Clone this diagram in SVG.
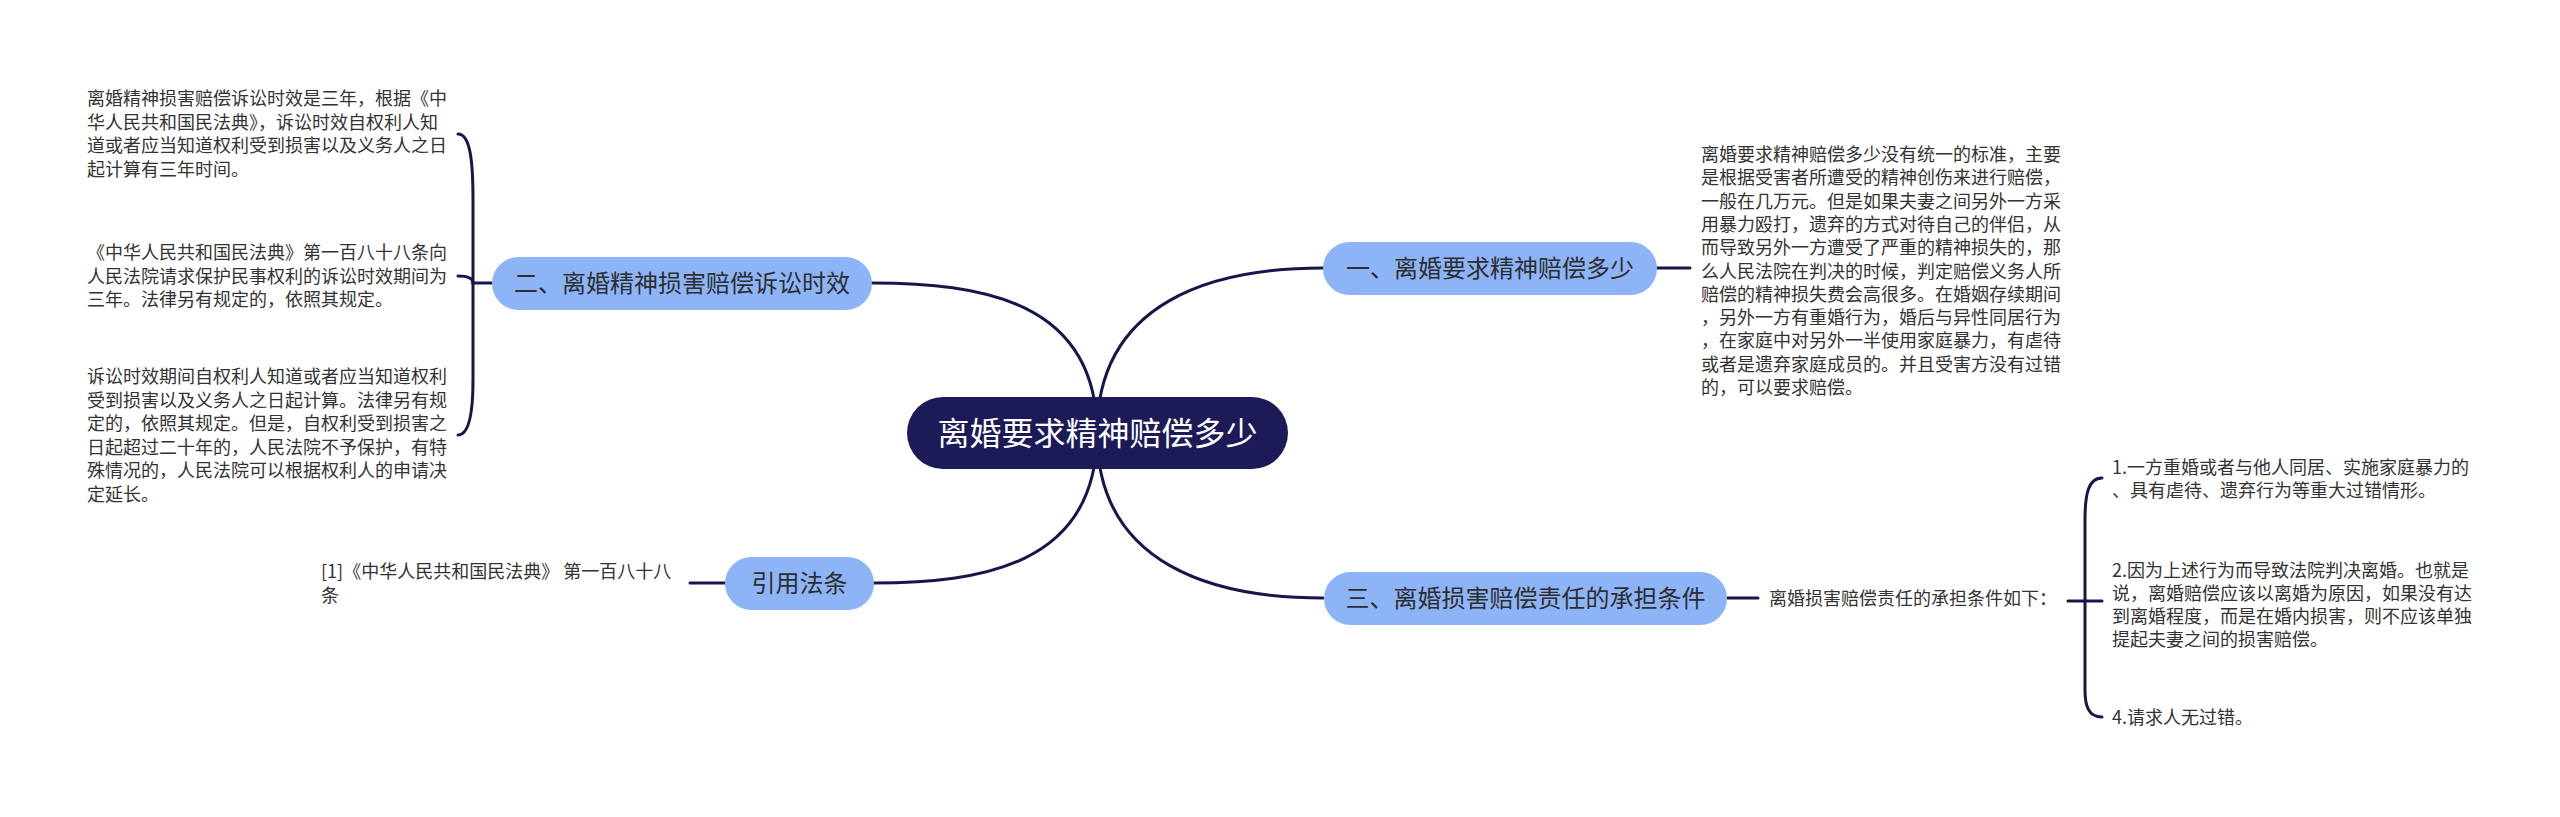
<svg xmlns="http://www.w3.org/2000/svg" width="2560" height="817" viewBox="0 0 2560 817">
<style>
.conn{fill:none;stroke:#16164a;stroke-width:3;stroke-linecap:round}
.br{fill:#8db4f7}
.brt{font-family:"Noto Sans CJK SC","Liberation Sans",sans-serif;font-size:24px;fill:#2e2e2e;text-anchor:middle}
.body{font-family:"Noto Sans CJK SC","Liberation Sans",sans-serif;font-size:18px;fill:#333333}
.ctr{font-family:"Noto Sans CJK SC","Liberation Sans",sans-serif;font-size:32px;fill:#ffffff;text-anchor:middle}
</style>
<rect width="2560" height="817" fill="#ffffff"/>
<g id="connectors">
<path class="conn" d="M1097 433 C1097 300 980 283 872 283"/>
<path class="conn" d="M1097 433 C1097 566 980 583 874 583"/>
<path class="conn" d="M1097 433 C1097 300 1215 268 1323 268"/>
<path class="conn" d="M1097 433 C1097 566 1215 598 1323 598"/>
<path class="conn" d="M492 283 L473 283"/>
<path class="conn" d="M473 283 L473 200 C473 160 470 134 458 134"/>
<path class="conn" d="M473 283 C473 279 469 276 458 276"/>
<path class="conn" d="M473 283 L473 380 C473 410 470 435 458 435"/>
<path class="conn" d="M725 583 L690 583"/>
<path class="conn" d="M1657 268 L1690 268"/>
<path class="conn" d="M1727 598 L1758 598"/>
<path class="conn" d="M2068 601 L2102 601"/>
<path class="conn" d="M2085 601 L2085 520 C2085 495 2088 478 2102 478"/>
<path class="conn" d="M2085 601 L2085 690 C2085 705 2088 717 2102 717"/>
</g>
<g id="center">
<rect x="907" y="397" width="381" height="72" rx="36" fill="#1c1b58"/>
<text class="ctr" x="1097.5" y="445">离婚要求精神赔偿多少</text>
</g>
<g id="node-er">
<rect class="br" x="492" y="257" width="380" height="53" rx="26.5"/>
<text class="brt" x="682" y="292">二、离婚精神损害赔偿诉讼时效</text>
</g>
<g id="node-yinyong">
<rect class="br" x="725" y="557" width="149" height="53" rx="26.5"/>
<text class="brt" x="799.5" y="592">引用法条</text>
</g>
<g id="node-yi">
<rect class="br" x="1323" y="242" width="334" height="53" rx="26.5"/>
<text class="brt" x="1490" y="277">一、离婚要求精神赔偿多少</text>
</g>
<g id="node-san">
<rect class="br" x="1324" y="572" width="403" height="53" rx="26.5"/>
<text class="brt" x="1525.5" y="607">三、离婚损害赔偿责任的承担条件</text>
</g>
<g id="text-er-1">
<text class="body" x="87"><tspan x="87" y="105">离婚精神损害赔偿诉讼时效是三年，根据《中</tspan><tspan x="87" y="128.5">华人民共和国民法典》，诉讼时效自权利人知</tspan><tspan x="87" y="152">道或者应当知道权利受到损害以及义务人之日</tspan><tspan x="87" y="175.5">起计算有三年时间。</tspan></text>
</g>
<g id="text-er-2">
<text class="body" x="87"><tspan x="87" y="259">《中华人民共和国民法典》第一百八十八条向</tspan><tspan x="87" y="282.5">人民法院请求保护民事权利的诉讼时效期间为</tspan><tspan x="87" y="306">三年。法律另有规定的，依照其规定。</tspan></text>
</g>
<g id="text-er-3">
<text class="body" x="87"><tspan x="87" y="383">诉讼时效期间自权利人知道或者应当知道权利</tspan><tspan x="87" y="406.5">受到损害以及义务人之日起计算。法律另有规</tspan><tspan x="87" y="430">定的，依照其规定。但是，自权利受到损害之</tspan><tspan x="87" y="453.5">日起超过二十年的，人民法院不予保护，有特</tspan><tspan x="87" y="477">殊情况的，人民法院可以根据权利人的申请决</tspan><tspan x="87" y="500.5">定延长。</tspan></text>
</g>
<g id="text-yinyong">
<text class="body" x="321"><tspan x="321" y="578">[1]《中华人民共和国民法典》 第一百八十八</tspan><tspan x="321" y="601.5">条</tspan></text>
</g>
<g id="text-yi">
<text class="body" x="1701"><tspan x="1701" y="161">离婚要求精神赔偿多少没有统一的标准，主要</tspan><tspan x="1701" y="184.3">是根据受害者所遭受的精神创伤来进行赔偿，</tspan><tspan x="1701" y="207.6">一般在几万元。但是如果夫妻之间另外一方采</tspan><tspan x="1701" y="230.9">用暴力殴打，遗弃的方式对待自己的伴侣，从</tspan><tspan x="1701" y="254.2">而导致另外一方遭受了严重的精神损失的，那</tspan><tspan x="1701" y="277.5">么人民法院在判决的时候，判定赔偿义务人所</tspan><tspan x="1701" y="300.8">赔偿的精神损失费会高很多。在婚姻存续期间</tspan><tspan x="1701" y="324.1">，另外一方有重婚行为，婚后与异性同居行为</tspan><tspan x="1701" y="347.4">，在家庭中对另外一半使用家庭暴力，有虐待</tspan><tspan x="1701" y="370.7">或者是遗弃家庭成员的。并且受害方没有过错</tspan><tspan x="1701" y="394">的，可以要求赔偿。</tspan></text>
</g>
<g id="text-san">
<text class="body" x="1769" y="605">离婚损害赔偿责任的承担条件如下：</text>
</g>
<g id="text-san-1">
<text class="body" x="2112"><tspan x="2112" y="473.5">1.一方重婚或者与他人同居、实施家庭暴力的</tspan><tspan x="2112" y="496.8">、具有虐待、遗弃行为等重大过错情形。</tspan></text>
</g>
<g id="text-san-2">
<text class="body" x="2112"><tspan x="2112" y="576.5">2.因为上述行为而导致法院判决离婚。也就是</tspan><tspan x="2112" y="599.8">说，离婚赔偿应该以离婚为原因，如果没有达</tspan><tspan x="2112" y="623.1">到离婚程度，而是在婚内损害，则不应该单独</tspan><tspan x="2112" y="646.4">提起夫妻之间的损害赔偿。</tspan></text>
</g>
<g id="text-san-4">
<text class="body" x="2112" y="723.5">4.请求人无过错。</text>
</g>
</svg>
